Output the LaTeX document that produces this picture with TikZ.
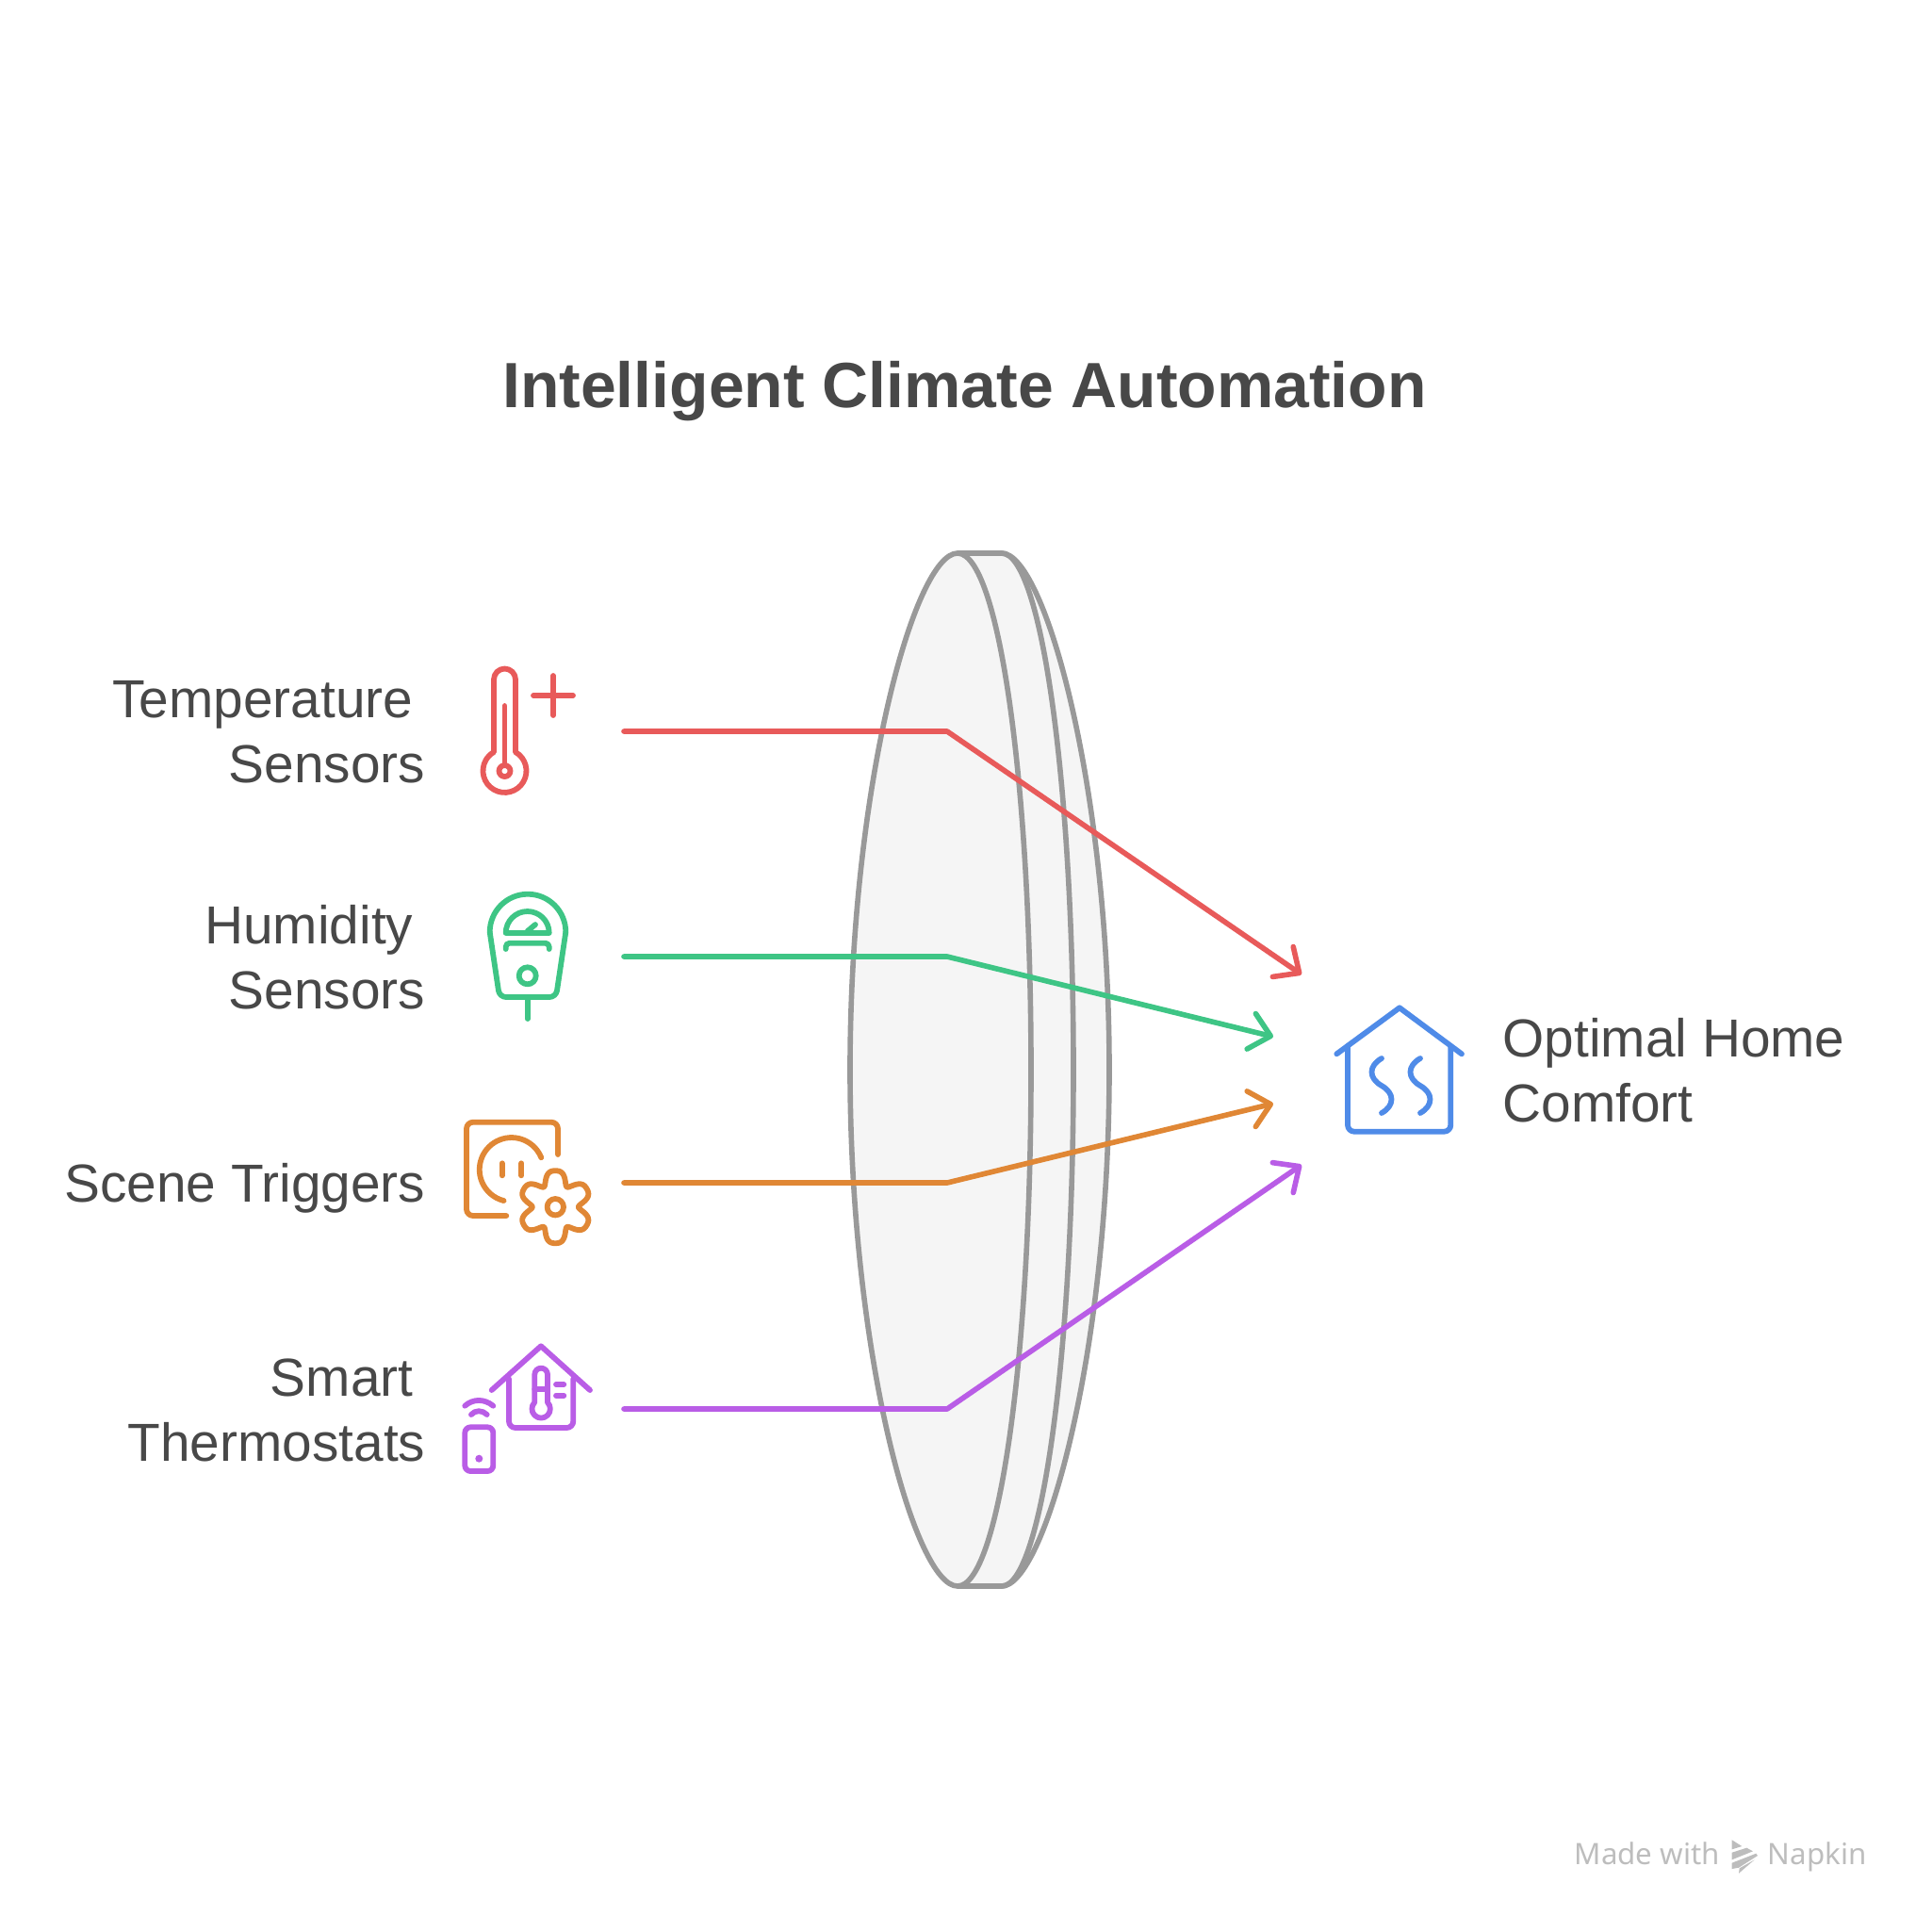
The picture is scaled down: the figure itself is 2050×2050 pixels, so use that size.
\documentclass[tikz,border=0pt]{standalone}
\usepackage{fontspec}
\setmainfont{Liberation Sans}
\newfontfamily\wmfont{Noto Sans}
\usetikzlibrary{arrows.meta}
\definecolor{cred}{HTML}{E85A5A}
\definecolor{cgreen}{HTML}{3EC585}
\definecolor{corange}{HTML}{E08735}
\definecolor{cpurple}{HTML}{B95DE6}
\definecolor{cblue}{HTML}{4F8BE8}
\definecolor{lensline}{HTML}{999999}
\definecolor{lensfill}{HTML}{F5F5F5}
\definecolor{txt}{HTML}{484848}
\definecolor{wm}{HTML}{BDBDBD}
\tikzset{
 ico/.style={line width=1.65pt,line cap=round,line join=round},
 conn/.style={line width=1.6pt,line cap=round,line join=round,-{Straight Barb[length=6pt,width=11pt,line width=1.6pt,round]}},
 lensln/.style={draw=lensline,line width=1.6pt,line join=round},
 lab/.style={font=\fontsize{16.15}{19.35}\selectfont,text=txt,inner sep=0pt},
 title/.style={font=\fontsize{19.3}{23}\selectfont\bfseries,text=txt,inner sep=0pt},
 wmark/.style={font=\wmfont\fontsize{8.9}{10}\selectfont,text=wm,inner sep=0pt,anchor=base west}
}
\begin{document}
\begin{tikzpicture}[x=0.01cm,y=0.01cm,yscale=-1]
\useasboundingbox (0,0) rectangle (2050,2050);
% lens
\path[fill=lensfill] (1016,587) -- (1063,587) .. controls (1108,587) and (1177,833) .. (1177,1135)
  .. controls (1177,1437) and (1108,1683) .. (1063,1683) -- (1016,1683)
  .. controls (971,1683) and (902,1437) .. (902,1135) .. controls (902,833) and (971,587) .. (1016,587) -- cycle;
\draw[lensln] (1063,587) .. controls (1108,587) and (1177,833) .. (1177,1135)
  .. controls (1177,1437) and (1108,1683) .. (1063,1683);
\draw[lensln] (1063,587) .. controls (1105,587) and (1139,832) .. (1139,1135)
  .. controls (1139,1438) and (1105,1683) .. (1063,1683) -- (1016,1683)
  .. controls (971,1683) and (902,1437) .. (902,1135) .. controls (902,833) and (971,587) .. (1016,587) -- cycle;
\draw[lensln] (1016,587) .. controls (1060,587) and (1094,832) .. (1094,1135)
  .. controls (1094,1438) and (1060,1683) .. (1016,1683);
% connector anchors
\coordinate (r0) at (662,776); \coordinate (r1) at (1005,776); \coordinate (r2) at (1381,1034);
\coordinate (g0) at (662,1015); \coordinate (g1) at (1005,1015); \coordinate (g2) at (1351,1100);
\coordinate (o0) at (662,1255); \coordinate (o1) at (1005,1255); \coordinate (o2) at (1351,1171);
\coordinate (p0) at (662,1495); \coordinate (p1) at (1005,1495); \coordinate (p2) at (1381,1236);
\draw[conn,cred] (r0) -- (r1) -- (r2);
\draw[conn,cgreen] (g0) -- (g1) -- (g2);
\draw[conn,corange] (o0) -- (o1) -- (o2);
\draw[conn,cpurple] (p0) -- (p1) -- (p2);
% thermometer
\begin{scope}[ico,cred]
\draw (524,798) -- (524,721) arc (180:360:11.5) -- (547,798) arc (-60:240:23) -- cycle;
\draw (535.5,749) -- (535.5,812);
\draw (535.5,818) circle[radius=6];
\draw (566,738) -- (608,738) (587,717) -- (587,759);
\end{scope}
% meter
\begin{scope}[ico,cgreen]
\draw (519.7,989) arc (180:360:40.3);
\draw[rounded corners=0.07cm] (519.7,989) -- (530,1058) -- (590,1058) -- (600.3,989);
\draw (559.7,1058) -- (559.7,1081);
\draw (536.7,990) arc (180:360:23) -- cycle;
\draw (559.7,988) -- (568,981);
\draw[rounded corners=0.04cm] (536.7,1007) -- (536.7,1000.7) -- (582.7,1000.7) -- (582.7,1007);
\draw (559.7,1035.3) circle[radius=9];
\end{scope}
% socket + gear
\begin{scope}[ico,corange]
\draw[rounded corners=0.07cm] (592,1225) -- (592,1190.7) -- (495,1190.7) -- (495,1290) -- (537.3,1290);
\draw (574.3,1228.3) arc (-22:-256:34);
\draw (532.7,1234.3) -- (532.7,1247.3) (553.3,1234.3) -- (553.3,1247.3);
\draw (589.3,1280.7) circle[radius=8.7];
\draw plot[variable=\t,domain=0:358,samples=180,smooth] ({589.3+(33-7*cos(6*\t)-1.5*cos(12*\t))*cos(\t)},{1280.7+(33-7*cos(6*\t)-1.5*cos(12*\t))*sin(\t)}) -- cycle;
\end{scope}
% house + thermostat + phone
\begin{scope}[ico,cpurple]
\draw (521.7,1475) -- (574,1428.3) -- (626,1475);
\draw[rounded corners=0.07cm] (540,1463) -- (540,1515) -- (608.3,1515) -- (608.3,1463);
\draw (567.3,1488) -- (567.3,1458.5) arc (180:360:6.85) -- (581,1488) arc (-45:225:9.7) -- cycle;
\draw (567.3,1474) -- (581,1474);
\draw (590,1469) -- (598.3,1469) (590,1480.7) -- (598.3,1480.7);
\draw (493.3,1491.7) .. controls (502,1484) and (514,1484) .. (523.3,1491.7);
\draw (500,1501) .. controls (504,1496) and (512,1496) .. (516.7,1501);
\draw[rounded corners=0.06cm] (493.3,1514.3) rectangle (523.3,1561);
\fill (508.3,1547.7) circle[radius=4];
\end{scope}
% result house
\begin{scope}[ico,cblue]
\draw (1418.3,1118.3) -- (1485,1069.3) -- (1551,1118.3);
\draw[rounded corners=0.07cm] (1430,1110) -- (1430,1200.7) -- (1539.3,1200.7) -- (1539.3,1110);
\draw (1466,1123) .. controls (1452,1131) and (1452,1144) .. (1466,1152) .. controls (1480,1160) and (1480,1173) .. (1466,1181);
\draw (1507,1123) .. controls (1493,1131) and (1493,1144) .. (1507,1152) .. controls (1521,1160) and (1521,1173) .. (1507,1181);
\end{scope}
% text
\node[title,anchor=base] (ttl) at (1023.5,432) {Intelligent Climate Automation};
\node[lab,align=right,anchor=base east] (l1) at (452,830) {Temperature\hspace*{3.7pt}\\Sensors};
\node[lab,align=right,anchor=base east] (l2) at (452,1070) {Humidity\hspace*{3.7pt}\\Sensors};
\node[lab,align=right,anchor=base east] (l3) at (452,1275) {Scene Triggers};
\node[lab,align=right,anchor=base east] (l4) at (452,1550) {Smart\hspace*{3.7pt}\\Thermostats};
\node[lab,align=left,anchor=base west] (l5) at (1594,1190) {Optimal Home\\Comfort};
% watermark
\node[wmark] (w1) at (1670,1978) {Made with};
\node[wmark] (w2) at (1875,1978) {Napkin};
\fill[wm] (1837.7,1952.3) -- (1848.3,1959) -- (1837.7,1962.3) -- cycle;
\fill[wm] (1837.7,1965.7) -- (1853.3,1960.7) -- (1860,1964.3) -- (1837.7,1973.3) -- cycle;
\fill[wm] (1837.7,1976.7) -- (1863.3,1966.7) -- (1865,1969) -- (1845,1981.7) -- (1837.7,1983) -- cycle;
\fill[wm] (1845,1987.7) -- (1845.7,1982.3) -- (1861.7,1973.3) -- cycle;
\end{tikzpicture}
\end{document}
